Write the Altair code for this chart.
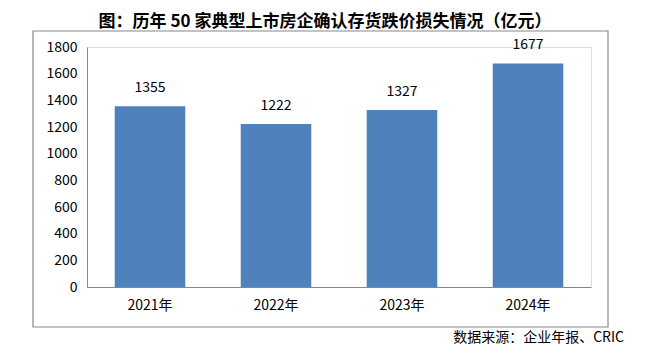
import altair as alt
import pandas as pd

years = ["2021年", "2022年", "2023年", "2024年"]
values = [1355, 1222, 1327, 1677]
y_ticks = [0, 200, 400, 600, 800, 1000, 1200, 1400, 1600, 1800]
title_text = "图：历年 50 家典型上市房企确认存货跌价损失情况（亿元）"
source_text = "数据来源：企业年报、CRIC"

df = pd.DataFrame({"year": years, "value": values})
one = pd.DataFrame({"k": [0]})
FONT = "Noto Sans CJK SC"

x = alt.X("year:N", sort=years, title=None,
          scale=alt.Scale(paddingInner=0.44, paddingOuter=0.22),
          axis=alt.Axis(labelAngle=0, ticks=False, domainColor="#888888",
                        labelPadding=11, labelFontSize=14, labelColor="#000000",
                        labelFont=FONT))
y = alt.Y("value:Q", title=None,
          scale=alt.Scale(domain=[0, 1800], nice=False),
          axis=alt.Axis(values=y_ticks, format="d", labelOverlap=False,
                        ticks=False, grid=False,
                        domainColor="#888888", labelPadding=10, labelFontSize=14,
                        labelColor="#000000", labelFont=FONT))

bars = alt.Chart(df).mark_bar(color="#4F81BD").encode(x=x, y=y)
labels = alt.Chart(df).mark_text(baseline="bottom", dy=-11, fontSize=14,
                                 font=FONT, color="#000000").encode(
    x=x, y=y, text="value:Q")

box = alt.Chart(one).mark_rect(fill=None, stroke="#888888", strokeWidth=1.2).encode(
    x=alt.value(-54), x2=alt.value(521), y=alt.value(-16), y2=alt.value(280))

title = alt.Chart(one).mark_text(fontSize=17, fontWeight="bold", font=FONT,
                                 color="#000000", baseline="alphabetic", align="center").encode(
    x=alt.value(238), y=alt.value(-20), text=alt.value(title_text))

source = alt.Chart(one).mark_text(fontSize=14, font=FONT, color="#000000",
                                  baseline="middle", align="right").encode(
    x=alt.value(537), y=alt.value(291), text=alt.value(source_text))

chart = alt.layer(box, bars, labels, title, source).properties(
    width=504, height=240,
    autosize=alt.AutoSizeParams(type="none"),
    padding={"left": 79, "top": 39, "right": 46, "bottom": 61},
).configure_view(stroke=None).configure(background="#ffffff")

chart.save("out.html", embed_options={"renderer": "svg", "actions": False})
